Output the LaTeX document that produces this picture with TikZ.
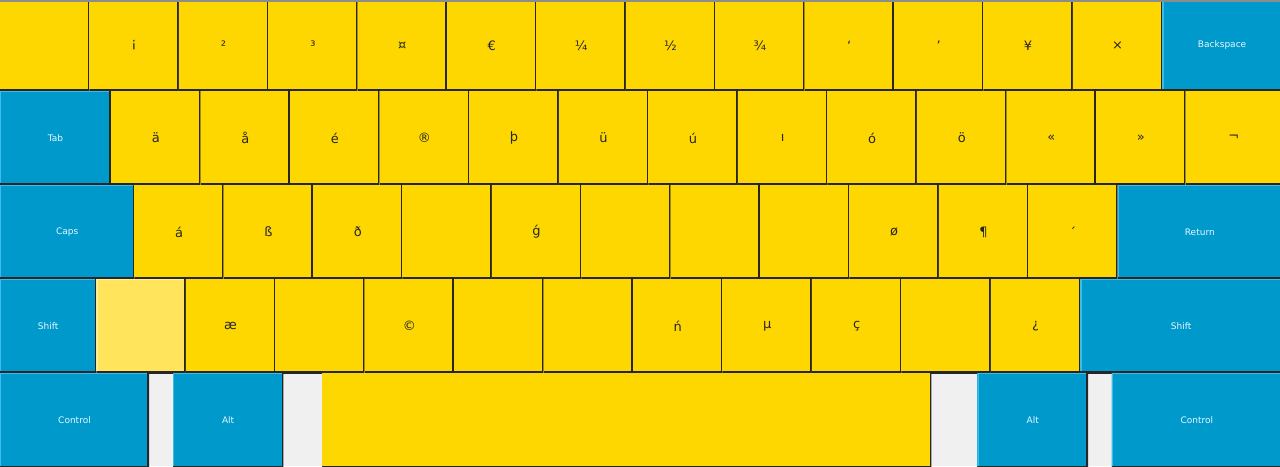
\documentclass[tikz,border=0pt]{standalone}
\usepackage{fontspec}
\setmainfont{DejaVu Sans}
\definecolor{kyellow}{HTML}{FFD700}
\definecolor{kblue}{HTML}{0099CC}
\definecolor{kbevel}{HTML}{3DBCEB}
\definecolor{kgap}{HTML}{F0F0F0}
\definecolor{kborder}{HTML}{262626}
\definecolor{klight}{HTML}{FFE45C}
\definecolor{klightedge}{HTML}{FFF0A6}
\definecolor{ktext}{HTML}{262626}
\definecolor{kbtext}{HTML}{E6F7FF}
\definecolor{ktop}{HTML}{8C8C8C}
\tikzset{
  keyedge/.style={path picture={
    \draw[#1, line width=2.6pt] (path picture bounding box.south west) -- (path picture bounding box.north west) -- (path picture bounding box.north east);
    \draw[kborder, line width=3.4pt] (path picture bounding box.north east) -- (path picture bounding box.south east) -- (path picture bounding box.south west);
  }},
  keybase/.style={anchor=north west, inner sep=0pt, outer sep=0pt},
  ykey/.style={keybase, fill=kyellow, text=ktext, font=\fontsize{13}{13}\selectfont, keyedge=kyellow},
  lkey/.style={keybase, fill=klight, text=ktext, font=\fontsize{13}{13}\selectfont, keyedge=klightedge},
  bkey/.style={keybase, fill=kblue, text=kbtext, font=\fontsize{9}{9}\selectfont, keyedge=kbevel},
}
\begin{document}
\begin{tikzpicture}[x=1pt,y=-1pt]
\useasboundingbox (0,0) rectangle (1280,466);
% row 5 background
\fill[kgap] (0,373) rectangle (1280,466);
% row 1
\foreach \t [count=\i from 0] in {,¡,²,³,¤,€,¼,½,¾,‘,’,¥,×} {
  \node[ykey, minimum width=89.4pt, minimum height=91pt] (r1k\i) at ({\i*89.4},0) {\t};
}
\node[bkey, minimum width=119.8pt, minimum height=91pt, text width=117.8pt, align=center] (bksp) at (1162.2,0) {Backspace};
% row 2
\node[bkey, minimum width=111pt, minimum height=94pt] (tab) at (0,91) {Tab};
\foreach \t [count=\i from 0] in {ä,å,é,®,þ,ü,ú,ı,ó,ö,«,»} {
  \node[ykey, minimum width=89.55pt, minimum height=94pt] (r2k\i) at ({111+\i*89.55},91) {\t};
}
\node[ykey, minimum width=96.4pt, minimum height=94pt, text width=94.4pt, align=center] (r2k12) at (1185.6,91) {¬};
% row 3
\node[bkey, minimum width=134.3pt, minimum height=94pt] (caps) at (0,185) {Caps};
\foreach \t [count=\i from 0] in {á,ß,ð,,ǵ,,,,ø,¶,´} {
  \node[ykey, minimum width=89.39pt, minimum height=94pt] (r3k\i) at ({134.3+\i*89.39},185) {\t};
}
\node[bkey, minimum width=164.4pt, minimum height=94pt, text width=162.4pt, align=center] (return) at (1117.6,185) {Return};
% row 4
\node[bkey, minimum width=96.3pt, minimum height=94pt] (lshift) at (0,279) {Shift};
\node[lkey, minimum width=89.45pt, minimum height=94pt] (iso) at (96.3,279) {};
\foreach \t [count=\i from 1] in {æ,,©,,,ń,µ,ç,,¿} {
  \node[ykey, minimum width=89.45pt, minimum height=94pt] (r4k\i) at ({96.3+\i*89.45},279) {\t};
}
\node[bkey, minimum width=201.8pt, minimum height=94pt, text width=199.8pt, align=center] (rshift) at (1080.2,279) {Shift};
% row 5 (bottom edge runs past the page)
\node[bkey, minimum width=149pt, minimum height=95pt] (lctrl) at (0,373) {\raisebox{1pt}{Control}};
\node[bkey, minimum width=110.3pt, minimum height=95pt] (lalt) at (173,373) {\raisebox{1pt}{Alt}};
\node[ykey, minimum width=609.4pt, minimum height=95pt] (space) at (322,373) {};
\node[bkey, minimum width=110.6pt, minimum height=95pt] (ralt) at (977.4,373) {\raisebox{1pt}{Alt}};
\node[bkey, minimum width=170.3pt, minimum height=95pt, text width=168.3pt, align=center] (rctrl) at (1111.7,373) {\raisebox{1pt}{Control}};
% top rule
\fill[ktop] (0,0) rectangle (1280,1.6);
\end{tikzpicture}
\end{document}
